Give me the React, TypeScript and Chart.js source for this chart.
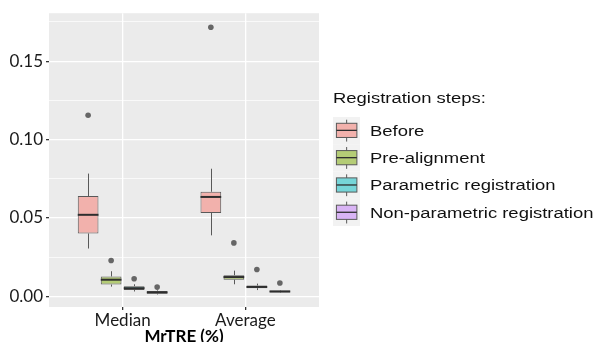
import React, { useEffect, useRef } from 'react';
import { Chart, registerables } from 'chart.js';

Chart.register(...registerables);

// ---------- data ----------
const categories = ['Median', 'Average'];
const categoryPositions = [1, 2];
const steps = ['Before', 'Pre-alignment', 'Parametric registration', 'Non-parametric registration'];

// [lower whisker, Q1, median, Q3, upper whisker] for Median, Average
const beforeStats = [
  [0.0305, 0.0401, 0.052, 0.064, 0.0783],
  [0.0389, 0.0532, 0.0634, 0.0667, 0.0814],
];
const preAlignmentStats = [
  [0.0062, 0.0075, 0.0106, 0.0127, 0.016],
  [0.0077, 0.0106, 0.0123, 0.0135, 0.0164],
];
const parametricStats = [
  [0.0031, 0.004, 0.0052, 0.0065, 0.0077],
  [0.004, 0.0052, 0.006, 0.0069, 0.0081],
];
const nonParametricStats = [
  [0.0012, 0.0017, 0.0025, 0.0034, 0.0038],
  [0.0022, 0.0025, 0.0031, 0.0037, 0.004],
];

const beforeOutliers = [[0.1155], [0.1716]];
const preAlignmentOutliers = [[0.0229], [0.0341]];
const parametricOutliers = [[0.0112], [0.0171]];
const nonParametricOutliers = [[0.0059], [0.0085]];

const yMajorTicks = [0, 0.05, 0.1, 0.15];
const yMinorTicks = [0.025, 0.075, 0.125, 0.175];

const allStats = [beforeStats, preAlignmentStats, parametricStats, nonParametricStats];
const allOutliers = [beforeOutliers, preAlignmentOutliers, parametricOutliers, nonParametricOutliers];

// ---------- styles ----------
const stepFills = ['#F2B1AC', '#B4CC76', '#76D5D8', '#D9B4F5'];
const LINE = '#595959';
const MEDIAN = '#2e2e2e';
const POINT = '#666666';
const AXIS_FONT = 'Lato';

const boxPlugin = {
  id: 'boxExtras',
  beforeDraw(chart: any) {
    const { ctx, chartArea: a } = chart;
    ctx.save();
    ctx.fillStyle = '#EBEBEB';
    ctx.fillRect(a.left, a.top, a.right - a.left, a.bottom - a.top);
    ctx.restore();
  },
  beforeDatasetsDraw(chart: any) {
    const { ctx } = chart;
    const ys = chart.scales.y;
    ctx.save();
    ctx.strokeStyle = LINE;
    ctx.lineWidth = 1;
    allStats.forEach((stats, di) => {
      const meta = chart.getDatasetMeta(di);
      meta.data.forEach((el: any, j: number) => {
        const s = stats[j];
        const x = Math.round(el.x) + 0.5;
        ctx.beginPath();
        ctx.moveTo(x, ys.getPixelForValue(s[4]));
        ctx.lineTo(x, ys.getPixelForValue(s[3]));
        ctx.moveTo(x, ys.getPixelForValue(s[1]));
        ctx.lineTo(x, ys.getPixelForValue(s[0]));
        ctx.stroke();
      });
    });
    ctx.restore();
  },
  afterDatasetsDraw(chart: any) {
    const { ctx } = chart;
    const ys = chart.scales.y;
    ctx.save();
    allStats.forEach((stats, di) => {
      const meta = chart.getDatasetMeta(di);
      meta.data.forEach((el: any, j: number) => {
        const s = stats[j];
        const y = ys.getPixelForValue(s[2]);
        ctx.strokeStyle = MEDIAN;
        ctx.lineWidth = 2;
        ctx.beginPath();
        ctx.moveTo(el.x - el.width / 2, y);
        ctx.lineTo(el.x + el.width / 2, y);
        ctx.stroke();
        ctx.fillStyle = POINT;
        allOutliers[di][j].forEach((v) => {
          ctx.beginPath();
          ctx.arc(el.x, ys.getPixelForValue(v), 2.8, 0, Math.PI * 2);
          ctx.fill();
        });
      });
    });
    ctx.restore();
  },
};

const KEY = 27.3;

export default function App() {
  const ref = useRef<HTMLCanvasElement>(null);

  useEffect(() => {
    const datasets = steps.map((label, di) => ({
      label,
      data: allStats[di].map((s, j) => ({ x: categoryPositions[j], y: [s[1], s[3]] })),
      backgroundColor: stepFills[di],
      borderColor: LINE,
      borderWidth: 1,
      borderSkipped: false,
      categoryPercentage: 0.75,
      barPercentage: 0.9,
    }));
    const yTicks = [...yMajorTicks, ...yMinorTicks].sort((a, b) => a - b);
    const isMajor = (v: number) => yMajorTicks.some((m) => Math.abs(m - v) < 1e-9);
    const chart = new Chart(ref.current as HTMLCanvasElement, {
      type: 'bar',
      data: { datasets } as any,
      options: {
        animation: false,
        responsive: false,
        layout: { padding: { left: 0, top: 6, right: 280, bottom: 0 } },
        plugins: { legend: { display: false }, tooltip: { enabled: false } },
        scales: {
          x: {
            type: 'linear',
            min: 0.4,
            max: 2.6,
            offset: false,
            afterBuildTicks: (s: any) => {
              s.ticks = categoryPositions.map((v) => ({ value: v }));
            },
            afterFit: (s: any) => {
              s.height = 35;
            },
            ticks: {
              autoSkip: false,
              maxRotation: 0,
              padding: 0,
              color: '#1a1a1a',
              font: { family: AXIS_FONT, size: 17 },
              callback: (v: any) => {
                const i = categoryPositions.indexOf(v);
                return i >= 0 ? categories[i] : '';
              },
            },
            grid: { color: '#ffffff', lineWidth: 1.3, offset: false, drawTicks: true, tickLength: 3, tickColor: '#333333' },
            border: { display: false },
            title: {
              display: true,
              text: 'MrTRE (%)',
              color: '#000000',
              font: { family: AXIS_FONT, size: 17, weight: 'bold' },
              padding: { top: 0, bottom: -5 },
            },
          },
          y: {
            type: 'linear',
            min: -0.0068,
            max: 0.1806,
            afterBuildTicks: (s: any) => {
              s.ticks = yTicks.map((v) => ({ value: v }));
            },
            afterFit: (s: any) => {
              s.width = 49;
            },
            ticks: {
              padding: 3,
              color: '#1a1a1a',
              font: { family: AXIS_FONT, size: 17 },
              callback: (v: any) => (isMajor(v) ? Number(v).toFixed(2) : ''),
            },
            grid: {
              color: '#ffffff',
              lineWidth: (c: any) => (c.tick && isMajor(c.tick.value) ? 1.3 : 0.7),
              drawTicks: true,
              tickLength: 3,
              tickColor: (c: any) => (c.tick && isMajor(c.tick.value) ? '#333333' : 'rgba(0,0,0,0)'),
            },
            border: { display: false },
          },
        },
      } as any,
      plugins: [boxPlugin],
    });
    return () => chart.destroy();
  }, []);

  return (
    <div style={{ position: 'fixed', left: 0, top: 0, width: 599, height: 342, background: '#ffffff' }}>
      <canvas ref={ref} width={599} height={342} style={{ position: 'absolute', left: 0, top: 0, display: 'block' }} />
      <div
        style={{
          position: 'absolute',
          left: 332.7,
          top: 89.4,
          font: '15.5px "Liberation Sans", Arial, sans-serif',
          lineHeight: '18px',
          color: '#111111',
          whiteSpace: 'nowrap',
          transform: 'scaleX(1.19)',
          transformOrigin: '0 0',
        }}
      >
        Registration steps:
      </div>
      <svg style={{ position: 'absolute', left: 332.5, top: 116.7 }} width={KEY} height={KEY * 4}>
        {steps.map((s, i) => {
          const t = i * KEY;
          const cx = KEY / 2;
          return (
            <g key={s}>
              <rect x={0} y={t} width={KEY} height={KEY} fill="#F2F2F2" />
              <line x1={cx} x2={cx} y1={t + KEY * 0.1} y2={t + KEY * 0.9} stroke={LINE} strokeWidth={1} />
              <rect
                x={KEY * 0.125}
                y={t + KEY * 0.23}
                width={KEY * 0.75}
                height={KEY * 0.52}
                fill={stepFills[i]}
                stroke={LINE}
                strokeWidth={1}
              />
              <line x1={KEY * 0.125} x2={KEY * 0.875} y1={t + KEY * 0.49} y2={t + KEY * 0.49} stroke={MEDIAN} strokeWidth={1.3} />
            </g>
          );
        })}
      </svg>
      {steps.map((s, i) => (
        <div
          key={s}
          style={{
            position: 'absolute',
            left: 370,
            top: 121.7 + i * KEY,
            font: '15.5px "Liberation Sans", Arial, sans-serif',
            lineHeight: '18px',
            color: '#111111',
            whiteSpace: 'nowrap',
            transform: 'scaleX(1.19)',
            transformOrigin: '0 0',
          }}
        >
          {s}
        </div>
      ))}
    </div>
  );
}
